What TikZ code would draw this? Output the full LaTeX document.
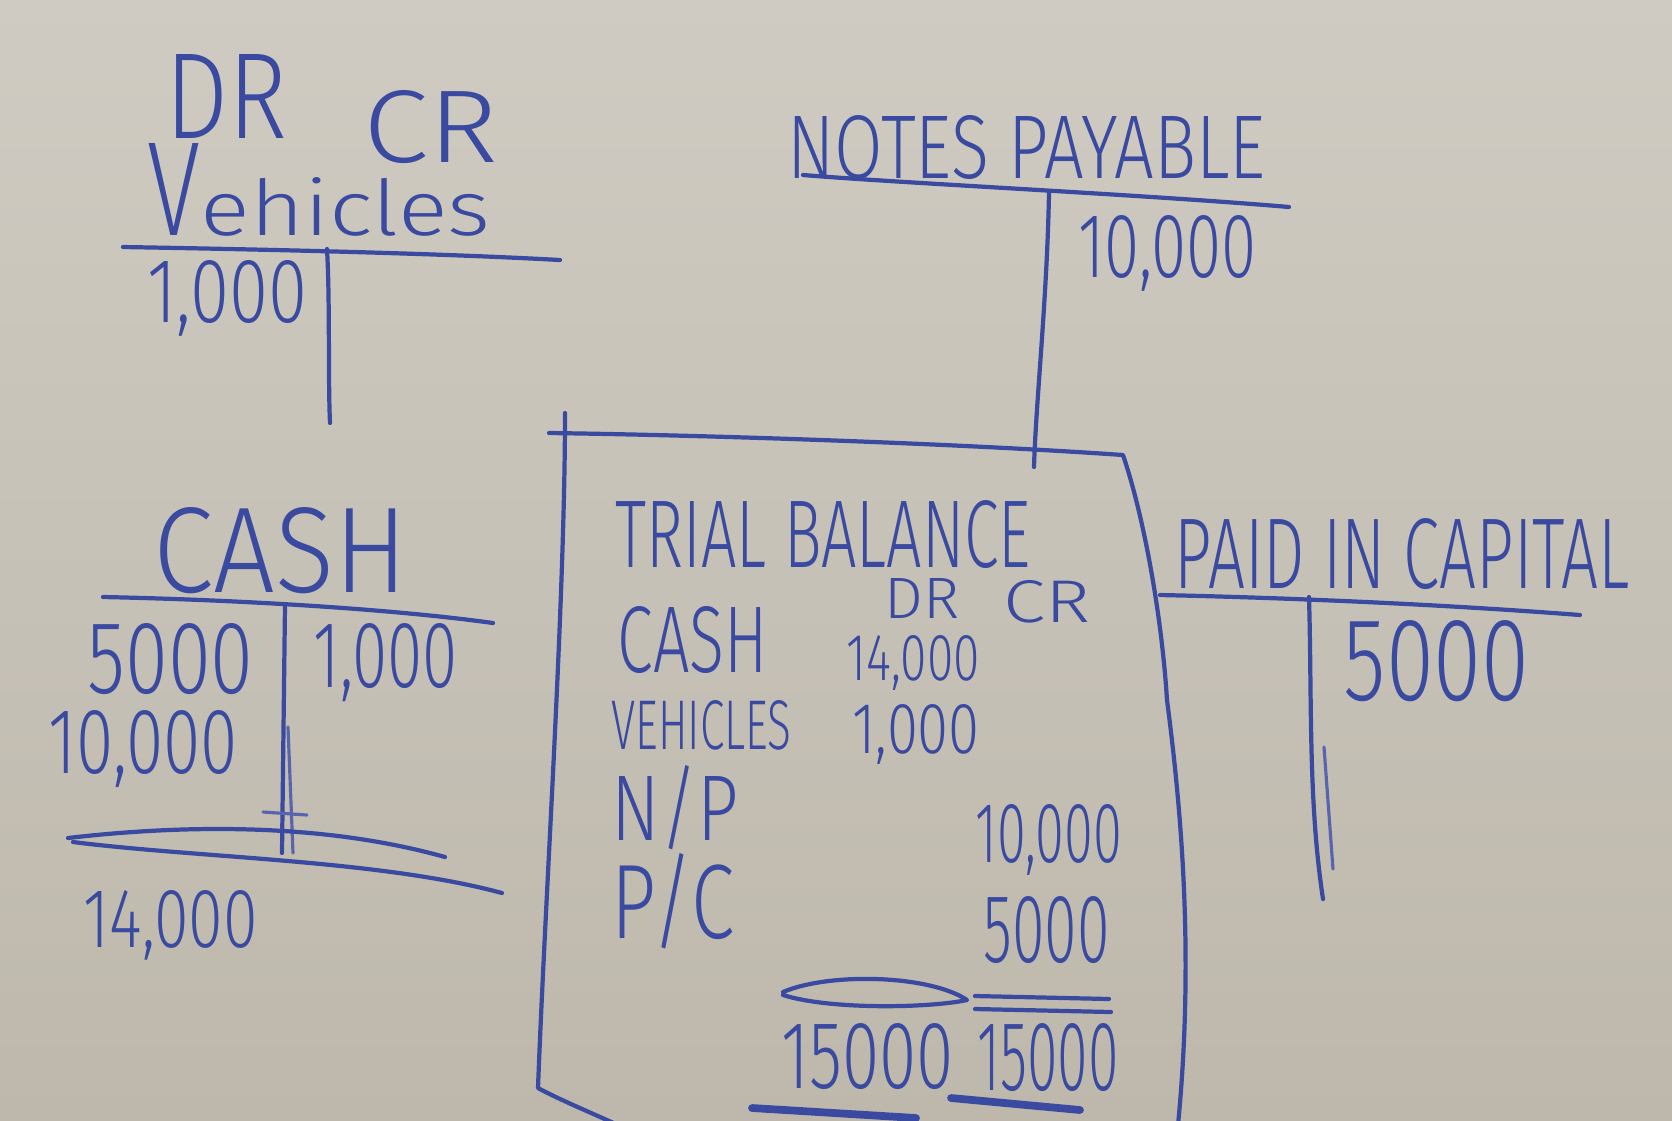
\documentclass[tikz,border=0pt]{standalone}
\usepackage{fontspec}
\usepackage{graphicx}
\newfontfamily\hand{Fira Sans Light}
\newlength\pxu
\setlength\pxu{0.01cm}
\newcommand{\hw}[3]{\resizebox{#1\pxu}{#2\pxu}{\hand #3}}
\definecolor{ink}{RGB}{58,74,160}
\definecolor{boardtop}{RGB}{207,203,194}
\definecolor{boardbot}{RGB}{190,184,172}
\tikzset{
  txt/.style={anchor=base west, inner sep=0pt, text=ink},
  pen/.style={draw=ink, line width=1.2pt, line cap=round, line join=round},
  thinpen/.style={pen, line width=0.9pt, draw=ink!85},
  fatpen/.style={pen, line width=2.2pt},
}
\begin{document}
\begin{tikzpicture}[x=0.01cm, y=-0.01cm]
\clip (0,0) rectangle (1672,1120);
\shade[top color=boardtop, bottom color=boardbot] (0,0) rectangle (1672,1120);

% Vehicles T-account
\node[txt] (vdr) at (165,138) {\hw{122}{84}{DR}};
\node[txt] (vcr) at (363,162) {\hw{135}{72}{CR}};
\node[txt] (vname) at (147,235) {\hw{53}{92}{V}\hw{290}{58}{ehicles}};
\node[txt] (vamt) at (147,322) {\hw{160}{62}{1,000}};
\draw[pen] (123,247) .. controls (300,250) and (450,254) .. (560,260);
\draw[pen] (327,249) .. controls (330,300) and (328,380) .. (330,423);

% Notes payable T-account
\node[txt] (npname) at (787,178) {\hw{478}{63}{NOTES PAYABLE}};
\node[txt] (npamt) at (1078,277) {\hw{178}{62}{10,000}};
\draw[pen] (803,175) .. controls (900,183) and (1150,195) .. (1289,207);
\draw[pen] (1049,193) .. controls (1047,300) and (1036,400) .. (1034,467);

% Cash T-account
\node[txt] (cname) at (153,592) {\hw{254}{85}{CASH}};
\node[txt] (c1) at (87,693) {\hw{166}{70}{5000}};
\node[txt] (c2) at (313,687) {\hw{144}{64}{1,000}};
\node[txt] (c3) at (48,773) {\hw{189}{63}{10,000}};
\node[txt] (c4) at (83,947) {\hw{174}{57}{14,000}};
\draw[pen] (103,597) .. controls (250,600) and (400,610) .. (493,623);
\draw[pen] (285,605) -- (282,853);
\draw[thinpen] (288,727) -- (293,853);
\draw[thinpen] (263,812) -- (307,815);
\draw[pen] (68,838) .. controls (180,825) and (320,822) .. (445,857);
\draw[pen] (73,842) .. controls (200,858) and (380,860) .. (502,893);

% Trial balance box
\draw[pen] (565,413) .. controls (565,600) and (545,900) .. (538,1088) .. controls (560,1100) and (590,1112) .. (640,1135);
\draw[pen] (549,433) .. controls (700,435) and (950,443) .. (1123,455) .. controls (1145,520) and (1162,620) .. (1167,700) .. controls (1180,800) and (1195,950) .. (1178,1125);
\node[txt] (tbtitle) at (615,567) {\hw{415}{67}{TRIAL BALANCE}};
\node[txt] (tbdr) at (884,618) {\hw{75}{40}{DR}};
\node[txt] (tbcr) at (1003,622) {\hw{87}{42}{CR}};
\node[txt] (tbcash) at (617,672) {\hw{150}{66}{CASH}};
\node[txt] (tbcashv) at (846,680) {\hw{133}{45}{14,000}};
\node[txt] (tbveh) at (611,749) {\hw{180}{49}{VEHICLES}};
\node[txt] (tbvehv) at (852,753) {\hw{127}{49}{1,000}};
\node[txt] (tbnp) at (611,840) {\hw{127}{75}{N/P}};
\node[txt] (tbpc) at (611,938) {\hw{123}{85}{P/C}};
\node[txt] (tbnpv) at (975,862) {\hw{146}{58}{10,000}};
\node[txt] (tbpcv) at (983,962) {\hw{126}{66}{5000}};
\node[txt] (tbtl) at (781,1088) {\hw{172}{65}{15000}};
\node[txt] (tbtr) at (977,1090) {\hw{141}{67}{15000}};
\draw[pen] (783,992) .. controls (830,972) and (930,975) .. (967,1000) .. controls (930,1008) and (830,1010) .. (783,995);
\draw[pen] (975,996) -- (1109,999);
\draw[pen] (975,1009) -- (1111,1012);
\draw[fatpen] (752,1108) -- (916,1118);
\draw[fatpen] (951,1098) -- (1080,1110);

% Paid in capital T-account
\node[txt] (pcname) at (1174,588) {\hw{455}{70}{PAID IN CAPITAL}};
\node[txt] (pcamt) at (1343,700) {\hw{186}{80}{5000}};
\draw[pen] (1160,595) .. controls (1300,598) and (1450,605) .. (1580,615);
\draw[pen] (1309,597) .. controls (1312,700) and (1308,800) .. (1323,899);
\draw[thinpen] (1324,747) -- (1333,869);
\end{tikzpicture}
\end{document}
